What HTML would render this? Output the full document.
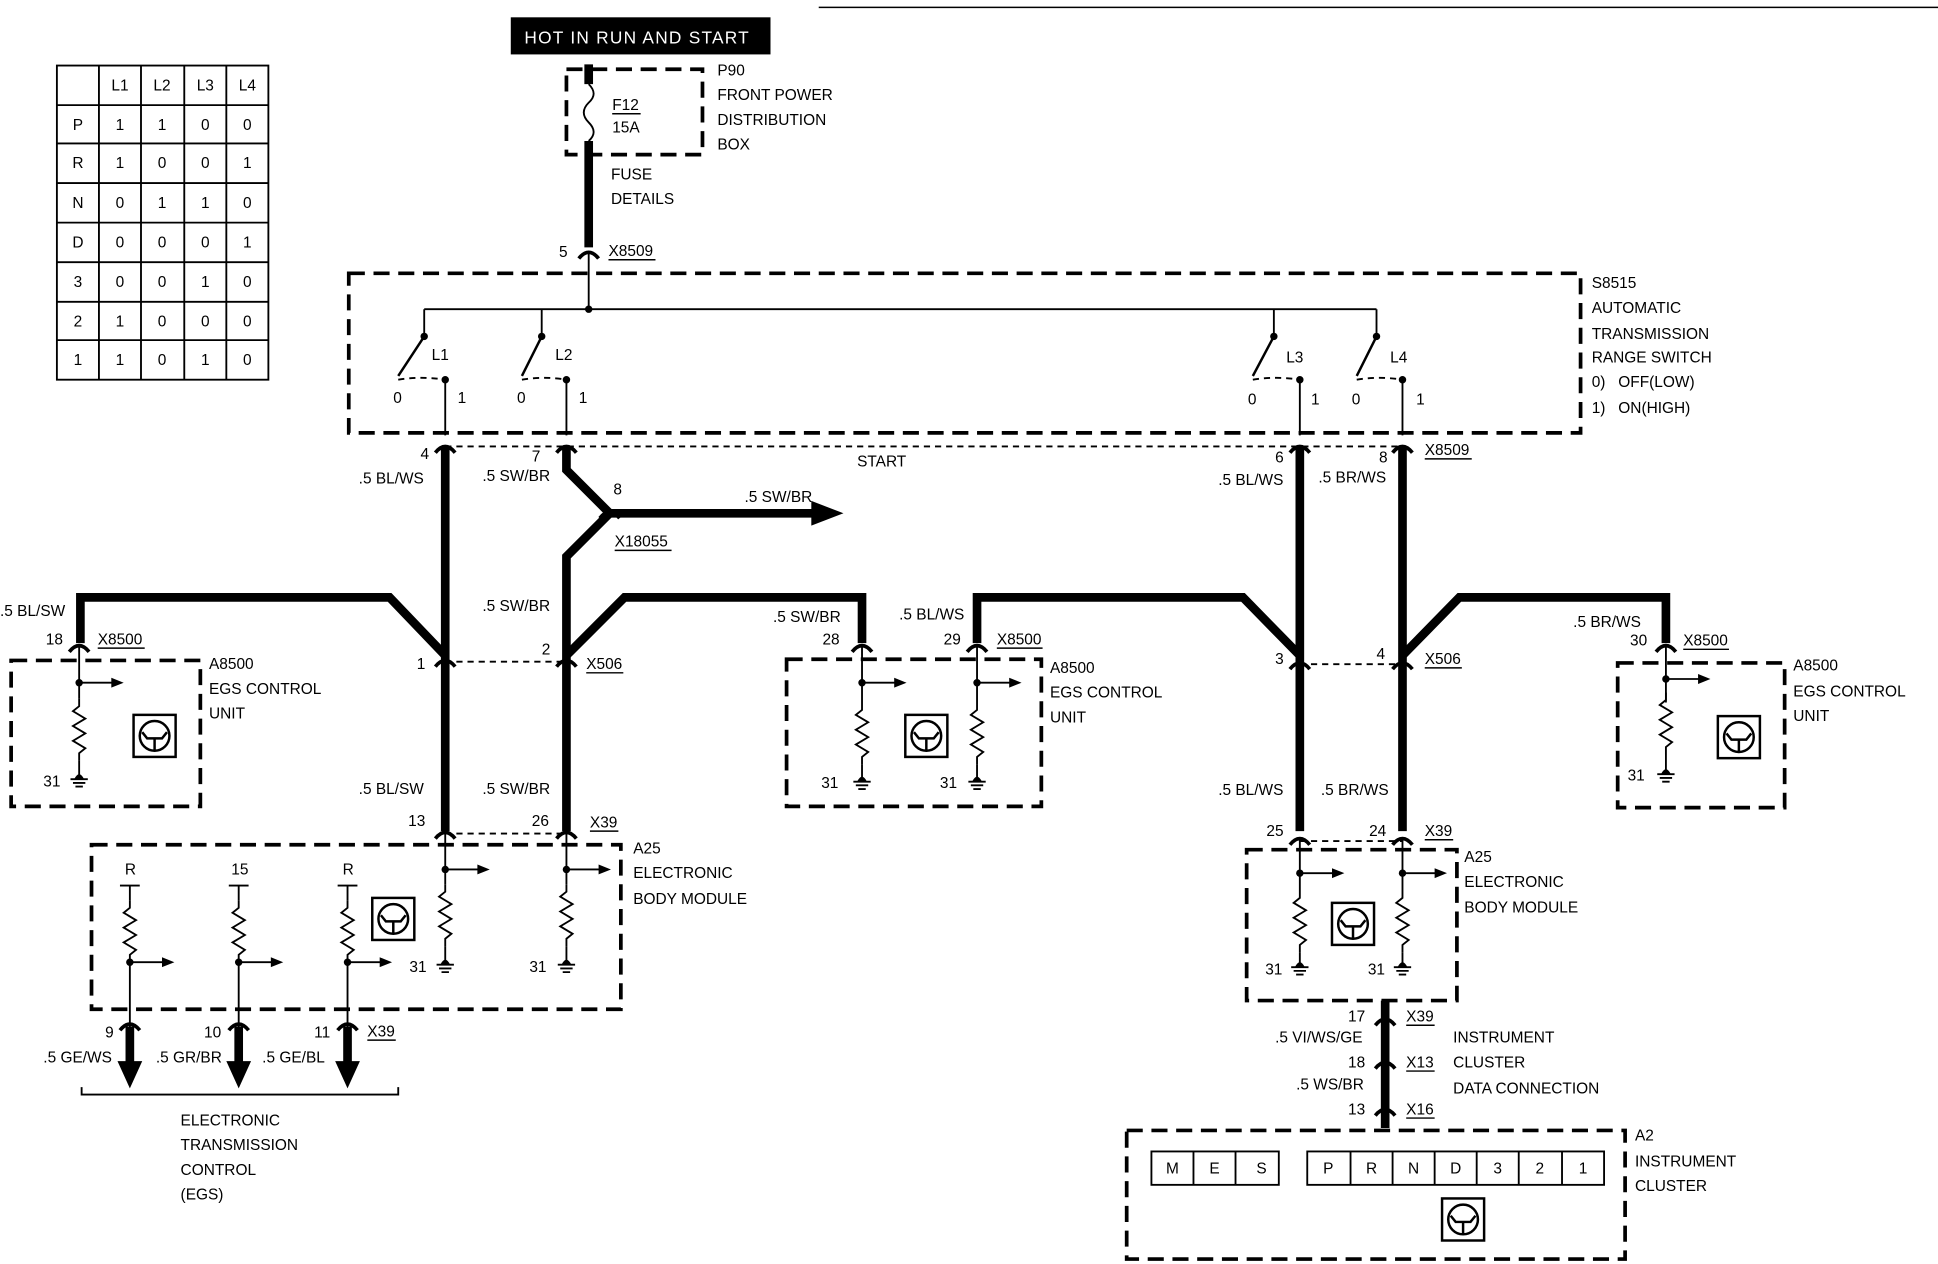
<!DOCTYPE html>
<html><head><meta charset="utf-8"><style>
html,body{margin:0;padding:0;background:#fff;}
svg{display:block}
text{font-family:"Liberation Sans",sans-serif;font-size:12.5px;fill:#000}
.d{fill:none;stroke:#000;stroke-width:3;stroke-dasharray:13 7}
.t{fill:none;stroke:#000;stroke-width:7}
.n{fill:none;stroke:#000;stroke-width:1.5}
</style></head><body>
<svg width="1938" height="1264" viewBox="0 0 1567 1022" preserveAspectRatio="none" xmlns="http://www.w3.org/2000/svg">
<defs>
<g id="res"><path class="n" d="M0 0 L0 6 L-5 10 L5 16 L-5 22 L5 28 L-5 34 L5 40 L0 44 L0 50"/></g>
<g id="gnd"><path d="M-7 0 H7 M-5 3 H5 M-3 6 H3" stroke="#000" stroke-width="1.5"/><path d="M-4 0 Q0 -8 4 0Z" fill="#000"/></g>
<g id="ic"><rect x="-17" y="-17" width="34" height="34" fill="none" stroke="#000" stroke-width="2"/><circle r="12" fill="none" stroke="#000" stroke-width="2"/><path d="M-10 -3 L-6 2 H6 L10 -3 M0 2 V12" fill="none" stroke="#000" stroke-width="2"/></g>
<g id="tap"><circle r="3" fill="#000"/><path d="M0 0 H28" stroke="#000" stroke-width="1.5"/><path d="M26 -4 L36 0 L26 4Z" fill="#000"/></g>
<g id="con"><path d="M-8 6 Q0 -4 8 6" fill="none" stroke="#000" stroke-width="3"/></g>
</defs>

<line x1="662" y1="6" x2="1567" y2="6" stroke="#000" stroke-width="1.2"/>
<rect x="413" y="14" width="210" height="30" fill="#000"/>
<text x="424" y="35" style="fill:#fff;font-size:14px;letter-spacing:1px">HOT IN RUN AND START</text>

<g stroke="#000" stroke-width="1.5" fill="none">
<rect x="46" y="53" width="171" height="254"/>
<path d="M80 53V307 M114 53V307 M149 53V307 M183 53V307 M46 85H217 M46 116H217 M46 148H217 M46 180H217 M46 212H217 M46 244H217 M46 275H217"/>
</g>
<g text-anchor="middle" style="font-size:12px">
<text x="97" y="73">L1</text><text x="131" y="73">L2</text><text x="166" y="73">L3</text><text x="200" y="73">L4</text>
<text x="63" y="105">P</text><text x="97" y="105">1</text><text x="131" y="105">1</text><text x="166" y="105">0</text><text x="200" y="105">0</text>
<text x="63" y="136">R</text><text x="97" y="136">1</text><text x="131" y="136">0</text><text x="166" y="136">0</text><text x="200" y="136">1</text>
<text x="63" y="168">N</text><text x="97" y="168">0</text><text x="131" y="168">1</text><text x="166" y="168">1</text><text x="200" y="168">0</text>
<text x="63" y="200">D</text><text x="97" y="200">0</text><text x="131" y="200">0</text><text x="166" y="200">0</text><text x="200" y="200">1</text>
<text x="63" y="232">3</text><text x="97" y="232">0</text><text x="131" y="232">0</text><text x="166" y="232">1</text><text x="200" y="232">0</text>
<text x="63" y="264">2</text><text x="97" y="264">1</text><text x="131" y="264">0</text><text x="166" y="264">0</text><text x="200" y="264">0</text>
<text x="63" y="295">1</text><text x="97" y="295">1</text><text x="131" y="295">0</text><text x="166" y="295">1</text><text x="200" y="295">0</text>
</g>

<path class="d" d="M458 56 H568 V125 H458 Z"/>
<path class="t" d="M476 52 V68 M476 114 V200"/>
<path d="M476 68 Q484 76 476 83 Q468 91 476 99 Q484 107 476 114" fill="none" stroke="#000" stroke-width="1.5"/>
<text x="495" y="89">F12</text><line x1="495" y1="92" x2="518" y2="92" stroke="#000" stroke-width="1.2"/><text x="495" y="107">15A</text>
<text x="580" y="61">P90</text><text x="580" y="81">FRONT POWER</text><text x="580" y="101">DISTRIBUTION</text><text x="580" y="121">BOX</text>
<text x="494" y="145">FUSE</text><text x="494" y="165">DETAILS</text>

<use href="#con" x="476" y="203"/>
<text x="452" y="208">5</text><text x="492" y="207">X8509</text><line x1="492" y1="210" x2="530" y2="210" stroke="#000" stroke-width="1.2"/>
<line x1="476" y1="203" x2="476" y2="250" stroke="#000" stroke-width="1.5"/>

<path class="d" d="M282 221 H1278 V350 H282 Z"/>
<text x="1287" y="233">S8515</text><text x="1287" y="253">AUTOMATIC</text><text x="1287" y="274">TRANSMISSION</text><text x="1287" y="293">RANGE SWITCH</text><text x="1287" y="313">0)&#160;&#160;&#160;OFF(LOW)</text><text x="1287" y="334">1)&#160;&#160;&#160;ON(HIGH)</text>
<path class="n" d="M343 250 H1113 M343 250 V272 M438 250 V272 M1030 250 V272 M1113 250 V272"/>
<circle cx="476" cy="250" r="3"/>
<g stroke="#000" stroke-width="2" fill="none">
<path d="M343 272 L322 304 M438 272 L422 304 M1030 272 L1013 304 M1113 272 L1097 304"/>
<path d="M322 307 Q340 304 360 307 M422 307 Q440 304 458 307 M1013 307 Q1032 304 1051 307 M1097 307 Q1115 304 1134 307" stroke-dasharray="5 4" stroke-width="1.5"/>
</g>
<g fill="#000"><circle cx="343" cy="272" r="3"/><circle cx="438" cy="272" r="3"/><circle cx="1030" cy="272" r="3"/><circle cx="1113" cy="272" r="3"/>
<circle cx="360" cy="307" r="3"/><circle cx="458" cy="307" r="3"/><circle cx="1051" cy="307" r="3"/><circle cx="1134" cy="307" r="3"/></g>
<path class="n" d="M360 307 V352 M458 307 V352 M1051 307 V352 M1134 307 V352"/>
<text x="349" y="291">L1</text><text x="449" y="291">L2</text><text x="1040" y="293">L3</text><text x="1124" y="293">L4</text>
<text x="318" y="326">0</text><text x="370" y="326">1</text><text x="418" y="326">0</text><text x="468" y="326">1</text>
<text x="1009" y="327">0</text><text x="1060" y="327">1</text><text x="1093" y="327">0</text><text x="1145" y="327">1</text>

<path class="n" d="M360 361 H1134" stroke-dasharray="5 4"/>
<use href="#con" x="360" y="360"/><use href="#con" x="458" y="360"/><use href="#con" x="1051" y="360"/><use href="#con" x="1134" y="360"/>
<text x="340" y="371">4</text><text x="430" y="373">7</text><text x="1031" y="374">6</text><text x="1115" y="374">8</text>
<text x="693" y="377">START</text>
<text x="1152" y="368">X8509</text><line x1="1152" y1="371" x2="1190" y2="371" stroke="#000" stroke-width="1.2"/>

<path class="t" d="M360 362 V672"/>
<path class="t" d="M458 362 V380 L493 415 L458 450 V672"/>
<path class="t" d="M1051 362 V672"/>
<path class="t" d="M1134 362 V672"/>
<path class="t" d="M493 415 H660"/>
<path d="M656 405 L682 415 L656 425Z" fill="#000"/>
<path class="t" d="M360 530 L315 483 H65 V520"/>
<path class="t" d="M458 530 L505 483 H697 V520"/>
<path class="t" d="M790 520 V483 H1005 L1051 530"/>
<path class="t" d="M1134 530 L1180 483 H1347 V520"/>
<text x="290" y="391">.5 BL/WS</text><text x="390" y="389">.5 SW/BR</text>
<text x="602" y="406">.5 SW/BR</text>
<text x="496" y="400">8</text><text x="497" y="442">X18055</text><line x1="497" y1="445" x2="543" y2="445" stroke="#000" stroke-width="1.2"/>
<use href="#con" x="493" y="413"/>
<text x="985" y="392">.5 BL/WS</text><text x="1066" y="390">.5 BR/WS</text>
<text x="0" y="498">.5 BL/SW</text><text x="390" y="494">.5 SW/BR</text>
<text x="625" y="503">.5 SW/BR</text><text x="727" y="501">.5 BL/WS</text><text x="1272" y="507">.5 BR/WS</text>

<path class="n" d="M360 535 H458 M1051 537 H1134" stroke-dasharray="5 4"/>
<use href="#con" x="360" y="533"/><use href="#con" x="458" y="533"/><use href="#con" x="1051" y="535"/><use href="#con" x="1134" y="535"/>
<text x="337" y="541">1</text><text x="438" y="529">2</text><text x="474" y="541">X506</text><line x1="474" y1="544" x2="504" y2="544" stroke="#000" stroke-width="1.2"/>
<text x="1031" y="537">3</text><text x="1113" y="533">4</text><text x="1152" y="537">X506</text><line x1="1152" y1="540" x2="1182" y2="540" stroke="#000" stroke-width="1.2"/>

<path class="d" d="M9 534 H162 V652 H9 Z"/>
<use href="#con" x="64" y="521"/>
<text x="37" y="521">18</text><text x="79" y="521">X8500</text><line x1="79" y1="524" x2="117" y2="524" stroke="#000" stroke-width="1.2"/>
<path class="n" d="M64 521 V565"/><use href="#tap" x="64" y="552"/><use href="#res" x="64" y="565"/><path class="n" d="M64 615 V628"/><use href="#gnd" x="64" y="630"/>
<text x="35" y="636">31</text><use href="#ic" x="125" y="595"/>
<text x="169" y="541">A8500</text><text x="169" y="561">EGS CONTROL</text><text x="169" y="581">UNIT</text>

<path class="d" d="M636 533 H842 V652 H636 Z"/>
<use href="#con" x="697" y="521"/><use href="#con" x="790" y="521"/>
<text x="665" y="521">28</text><text x="763" y="521">29</text><text x="806" y="521">X8500</text><line x1="806" y1="524" x2="843" y2="524" stroke="#000" stroke-width="1.2"/>
<path class="n" d="M697 521 V568 M790 521 V568"/>
<use href="#tap" x="697" y="552"/><use href="#tap" x="790" y="552"/>
<use href="#res" x="697" y="568"/><use href="#res" x="790" y="568"/>
<path class="n" d="M697 618 V630 M790 618 V630"/><use href="#gnd" x="697" y="632"/><use href="#gnd" x="790" y="632"/>
<text x="664" y="637">31</text><text x="760" y="637">31</text><use href="#ic" x="749" y="595"/>
<text x="849" y="544">A8500</text><text x="849" y="564">EGS CONTROL</text><text x="849" y="584">UNIT</text>

<path class="d" d="M1308 536 H1443 V653 H1308 Z"/>
<use href="#con" x="1347" y="521"/>
<text x="1318" y="522">30</text><text x="1361" y="522">X8500</text><line x1="1361" y1="525" x2="1398" y2="525" stroke="#000" stroke-width="1.2"/>
<path class="n" d="M1347 521 V568"/><use href="#tap" x="1347" y="549"/><use href="#res" x="1347" y="560"/>
<path class="n" d="M1347 610 V624"/><use href="#gnd" x="1347" y="626"/><text x="1316" y="631">31</text><use href="#ic" x="1406" y="596"/>
<text x="1450" y="542">A8500</text><text x="1450" y="563">EGS CONTROL</text><text x="1450" y="583">UNIT</text>

<path class="n" d="M360 674 H458" stroke-dasharray="5 4"/>
<use href="#con" x="360" y="672"/><use href="#con" x="458" y="672"/>
<text x="330" y="668">13</text><text x="430" y="668">26</text><text x="477" y="669">X39</text><line x1="477" y1="672" x2="500" y2="672" stroke="#000" stroke-width="1.2"/>
<text x="290" y="642">.5 BL/SW</text><text x="390" y="642">.5 SW/BR</text>

<path class="d" d="M74 683 H502 V816 H74 Z"/>
<path class="n" d="M360 672 V715 M458 672 V715"/>
<use href="#tap" x="360" y="703"/><use href="#tap" x="458" y="703"/>
<use href="#res" x="360" y="715"/><use href="#res" x="458" y="715"/>
<path class="n" d="M360 765 V778 M458 765 V778"/><use href="#gnd" x="360" y="780"/><use href="#gnd" x="458" y="780"/>
<text x="331" y="786">31</text><text x="428" y="786">31</text>
<use href="#ic" x="318" y="743"/>
<text x="512" y="690">A25</text><text x="512" y="710">ELECTRONIC</text><text x="512" y="731">BODY MODULE</text>
<path class="n" d="M97 716 H113 M185 716 H201 M273 716 H289 M105 716 V728 M193 716 V728 M281 716 V728"/>
<use href="#res" x="105" y="728"/><use href="#res" x="193" y="728"/><use href="#res" x="281" y="728"/>
<use href="#tap" x="105" y="778"/><use href="#tap" x="193" y="778"/><use href="#tap" x="281" y="778"/>
<path class="n" d="M105 778 V830 M193 778 V830 M281 778 V830"/>
<text x="101" y="707">R</text><text x="187" y="707">15</text><text x="277" y="707">R</text>
<path class="t" d="M105 830 V862 M193 830 V862 M281 830 V862"/>
<path d="M95 858 H115 L105 880Z M183 858 H203 L193 880Z M271 858 H291 L281 880Z" fill="#000"/>
<use href="#con" x="105" y="827"/><use href="#con" x="193" y="827"/><use href="#con" x="281" y="827"/>
<text x="85" y="839">9</text><text x="165" y="839">10</text><text x="254" y="839">11</text>
<text x="297" y="838">X39</text><line x1="297" y1="841" x2="320" y2="841" stroke="#000" stroke-width="1.2"/>
<text x="35" y="859">.5 GE/WS</text><text x="126" y="859">.5 GR/BR</text><text x="212" y="859">.5 GE/BL</text>
<path class="n" d="M66 879 V885 H322 V879"/>
<text x="146" y="910">ELECTRONIC</text><text x="146" y="930">TRANSMISSION</text><text x="146" y="950">CONTROL</text><text x="146" y="970">(EGS)</text>

<path class="n" d="M1051 680 H1134" stroke-dasharray="5 4"/>
<use href="#con" x="1051" y="677"/><use href="#con" x="1134" y="677"/>
<text x="1024" y="676">25</text><text x="1107" y="676">24</text><text x="1152" y="676">X39</text><line x1="1152" y1="679" x2="1175" y2="679" stroke="#000" stroke-width="1.2"/>
<text x="985" y="643">.5 BL/WS</text><text x="1068" y="643">.5 BR/WS</text>

<path class="d" d="M1008 687 H1178 V809 H1008 Z"/>
<path class="n" d="M1051 677 V720 M1134 677 V720"/>
<use href="#tap" x="1051" y="706"/><use href="#tap" x="1134" y="706"/>
<use href="#res" x="1051" y="720"/><use href="#res" x="1134" y="720"/>
<path class="n" d="M1051 770 V780 M1134 770 V780"/><use href="#gnd" x="1051" y="782"/><use href="#gnd" x="1134" y="782"/>
<text x="1023" y="788">31</text><text x="1106" y="788">31</text>
<use href="#ic" x="1094" y="747"/>
<text x="1184" y="697">A25</text><text x="1184" y="717">ELECTRONIC</text><text x="1184" y="738">BODY MODULE</text>

<path class="t" d="M1120 809 V912"/>
<use href="#con" x="1120" y="823"/><use href="#con" x="1120" y="858"/><use href="#con" x="1120" y="896"/>
<text x="1090" y="826">17</text><text x="1137" y="826">X39</text><line x1="1137" y1="829" x2="1160" y2="829" stroke="#000" stroke-width="1.2"/>
<text x="1031" y="843">.5 VI/WS/GE</text>
<text x="1090" y="863">18</text><text x="1137" y="863">X13</text><line x1="1137" y1="866" x2="1160" y2="866" stroke="#000" stroke-width="1.2"/>
<text x="1048" y="881">.5 WS/BR</text>
<text x="1090" y="901">13</text><text x="1137" y="901">X16</text><line x1="1137" y1="904" x2="1160" y2="904" stroke="#000" stroke-width="1.2"/>
<text x="1175" y="843">INSTRUMENT</text><text x="1175" y="863">CLUSTER</text><text x="1175" y="884">DATA CONNECTION</text>

<path class="d" d="M911 914 H1314 V1018 H911 Z"/>
<text x="1322" y="922">A2</text><text x="1322" y="943">INSTRUMENT</text><text x="1322" y="963">CLUSTER</text>
<g stroke="#000" stroke-width="1.5" fill="none">
<rect x="931" y="931" width="103" height="27"/><path d="M965 931V958 M999 931V958"/>
<rect x="1057" y="931" width="240" height="27"/><path d="M1092 931V958 M1126 931V958 M1160 931V958 M1194 931V958 M1228 931V958 M1263 931V958"/>
</g>
<g text-anchor="middle" style="font-size:13px">
<text x="948" y="949">M</text><text x="982" y="949">E</text><text x="1020" y="949">S</text>
<text x="1074" y="949">P</text><text x="1109" y="949">R</text><text x="1143" y="949">N</text><text x="1177" y="949">D</text><text x="1211" y="949">3</text><text x="1245" y="949">2</text><text x="1280" y="949">1</text>
</g>
<use href="#ic" x="1183" y="986"/>
</svg>
</body></html>
